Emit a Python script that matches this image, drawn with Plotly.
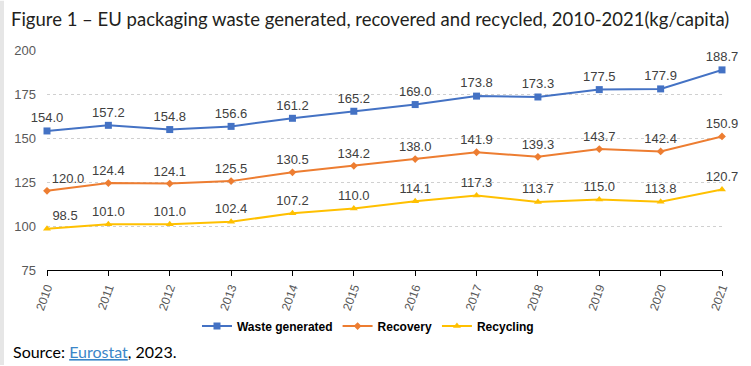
import plotly.graph_objects as go

years = [str(y) for y in range(2010, 2022)]
waste = [154.0, 157.2, 154.8, 156.6, 161.2, 165.2, 169.0, 173.8, 173.3, 177.5, 177.9, 188.7]
recovery = [120.0, 124.4, 124.1, 125.5, 130.5, 134.2, 138.0, 141.9, 139.3, 143.7, 142.4, 150.9]
recycling = [98.5, 101.0, 101.0, 102.4, 107.2, 110.0, 114.1, 117.3, 113.7, 115.0, 113.8, 120.7]
yticks = [75, 100, 125, 150, 175, 200]

series = [
    ("Waste generated", waste, "#4472C4", "square", 7),
    ("Recovery", recovery, "#ED7D31", "diamond", 6),
    ("Recycling", recycling, "#FFC000", "triangle-up", 7),
]

L, R, T, B = 47, 29, 49.5, 95.5
PW = 751 - L - R
PH = 366 - T - B

def px_x(px):
    return (px - L) / PW

def px_y(py):
    return (366 - B - py) / PH

fig = go.Figure()
for name, vals, col, sym, ms in series:
    pos = ["top center"] * len(vals)
    if name != "Waste generated":
        pos[0] = "top right"
    fig.add_trace(go.Scatter(
        x=list(range(len(years))), y=vals, name=name,
        mode="lines+markers+text",
        line=dict(color=col, width=2),
        marker=dict(color=col, symbol=sym, size=ms),
        text=[f"{v:.1f}" for v in vals],
        textposition=pos,
        textfont=dict(family="Arial, Liberation Sans", size=13, color="#404040"),
        cliponaxis=False,
    ))

fig.update_layout(
    width=751, height=366,
    margin=dict(l=L, r=R, t=T, b=B, autoexpand=False),
    paper_bgcolor="white", plot_bgcolor="white",
    showlegend=True,
    legend=dict(orientation="h", xref="container", yref="container",
                x=0.49, xanchor="center", y=0.109, yanchor="middle",
                font=dict(family="Arial, Liberation Sans", size=12, color="#000000", weight="bold"),
                itemwidth=30, tracegroupgap=0),
    xaxis=dict(
        range=[0, 11], tickmode="array", tickvals=list(range(len(years))), ticktext=years,
        tickangle=-70, showgrid=False, showline=True, linecolor="#000000", linewidth=1,
        ticks="outside", ticklen=5, tickcolor="#000000", automargin=False,
        tickfont=dict(family="Arial, Liberation Sans", size=12, color="#595959"),
        zeroline=False,
    ),
    yaxis=dict(
        range=[75, 200], tickvals=yticks, showgrid=True, gridcolor="#d0d0d0",
        griddash="dot", gridwidth=1, showline=False, zeroline=False,
        ticks="", ticklabelstandoff=10, automargin=False,
        tickfont=dict(family="Arial, Liberation Sans", size=13, color="#595959"),
    ),
    annotations=[
        dict(text="Figure 1 – EU packaging waste generated, recovered and recycled, 2010-2021(kg/capita)",
             xref="paper", yref="paper", x=px_x(9), y=px_y(18), xanchor="left", yanchor="middle",
             showarrow=False,
             font=dict(family="Lato", size=18.5, color="#231f20")),
        dict(text="Source: <span style='color:#3b86c8'><u>Eurostat</u></span>, 2023.",
             xref="paper", yref="paper", x=px_x(11), y=px_y(352), xanchor="left", yanchor="middle",
             showarrow=False,
             font=dict(family="Lato", size=16, color="#000000")),
    ],
)
# light gray strip at left edge
fig.add_shape(type="rect", xref="paper", yref="paper", x0=px_x(0), x1=px_x(4), y0=px_y(366), y1=px_y(0),
              fillcolor="#e6e6e6", line=dict(width=0), layer="below")
fig.write_html("out.html", config={"displayModeBar": False},
               post_script="document.body.style.margin='0';document.body.style.padding='0';")
